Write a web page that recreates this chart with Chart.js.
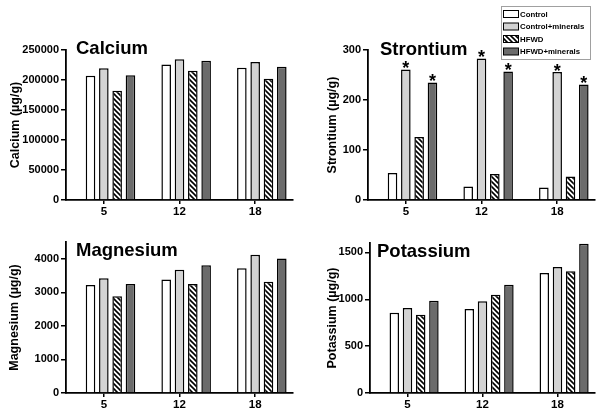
<!DOCTYPE html>
<html><head><meta charset="utf-8">
<script src="https://cdn.jsdelivr.net/npm/chart.js@4.4.1/dist/chart.umd.min.js"></script>
<style>
html,body{margin:0;padding:0;background:#fff;}
body{width:604px;height:416px;position:relative;overflow:hidden;}
canvas{position:absolute;}
</style></head><body>
<canvas id="ca" width="300" height="215" style="left:0;top:0;width:300px;height:215px"></canvas>
<canvas id="sr" width="304" height="215" style="left:300px;top:0;width:304px;height:215px"></canvas>
<canvas id="mg" width="300" height="201" style="left:0;top:215px;width:300px;height:201px"></canvas>
<canvas id="k" width="304" height="201" style="left:300px;top:215px;width:304px;height:201px"></canvas>
<script>
// ---- data ----
const categories = ['5', '12', '18'];
const seriesNames = ['Control', 'Control+minerals', 'HFWD', 'HFWD+minerals'];

const calciumControl  = [207000, 226000, 220500];
const calciumCtrlMin  = [219500, 234500, 230000];
const calciumHFWD     = [182000, 215500, 202000];
const calciumHFWDMin  = [208000, 232000, 222000];
const calciumTicks    = [0, 50000, 100000, 150000, 200000, 250000];

const strontiumControl = [54, 27, 25];
const strontiumCtrlMin = [261, 283, 256];
const strontiumHFWD    = [126, 52, 47];
const strontiumHFWDMin = [235, 257, 231];
const strontiumTicks   = [0, 100, 200, 300];
const strontiumStarred = ['Control+minerals', 'HFWD+minerals'];

const magnesiumControl = [3220, 3385, 3716];
const magnesiumCtrlMin = [3420, 3672, 4122];
const magnesiumHFWD    = [2880, 3248, 3318];
const magnesiumHFWDMin = [3245, 3808, 4010];
const magnesiumTicks   = [0, 1000, 2000, 3000, 4000];

const potassiumControl = [857, 896, 1280];
const potassiumCtrlMin = [906, 978, 1344];
const potassiumHFWD    = [835, 1049, 1298];
const potassiumHFWDMin = [985, 1155, 1593];
const potassiumTicks   = [0, 500, 1000, 1500];

// ---- styles ----
const FONT = '"Liberation Sans", Arial, Helvetica, sans-serif';
Chart.defaults.font.family = FONT;
Chart.defaults.font.weight = 'bold';
Chart.defaults.color = '#000';

function hatch() {
  const c = document.createElement('canvas');
  const s = 5;
  c.width = s; c.height = s;
  const g = c.getContext('2d');
  g.fillStyle = '#fff'; g.fillRect(0, 0, s, s);
  g.strokeStyle = '#000'; g.lineWidth = 1.6;
  g.beginPath();
  g.moveTo(-1, -1); g.lineTo(s + 1, s + 1);
  g.moveTo(-1, s - 1); g.lineTo(1, s + 1);
  g.moveTo(s - 1, -1); g.lineTo(s + 1, 1);
  g.stroke();
  return g.createPattern(c, 'repeat');
}
const HATCH = hatch();
const fills = ['#ffffff', '#d3d3d3', HATCH, '#6b6b6b'];

function makeChart(id, cfg) {
  const cv = document.getElementById(id);
  const W = cv.width, H = cv.height, L = cfg.area;
  const series = [cfg.control, cfg.ctrlMin, cfg.hfwd, cfg.hfwdMin];
  const datasets = [{ label: '', data: categories.map(() => null), backgroundColor: '#fff' }];
  series.forEach((d, i) => datasets.push({
    label: seriesNames[i], data: d, backgroundColor: fills[i],
    borderColor: '#000', borderWidth: 1.5
  }));
  const deco = {
    id: 'deco' + id,
    afterDraw(chart) {
      const ctx = chart.ctx;
      ctx.save();
      ctx.fillStyle = '#000';
      ctx.font = 'bold 18.5px ' + FONT;
      ctx.textBaseline = 'alphabetic';
      ctx.textAlign = 'left';
      ctx.fillText(cfg.title, cfg.titlePos[0], cfg.titlePos[1]);
      if (cfg.starred) {
        ctx.font = 'bold 18px ' + FONT;
        ctx.textAlign = 'center';
        cfg.starred.forEach(name => {
          const di = seriesNames.indexOf(name) + 1;
          chart.getDatasetMeta(di).data.forEach(bar => {
            ctx.fillText('*', bar.x, bar.y + 4.5);
          });
        });
      }
      if (cfg.legend) {
        const [lx, ly, lw, lh] = cfg.legend;
        ctx.strokeStyle = '#a0a0a0'; ctx.lineWidth = 1;
        ctx.strokeRect(lx + 0.5, ly + 0.5, lw, lh);
        ctx.font = 'bold 7.8px ' + FONT;
        ctx.textAlign = 'left'; ctx.textBaseline = 'middle';
        seriesNames.forEach((n, i) => {
          const cy = ly + 8 + i * 12.5;
          ctx.fillStyle = fills[i];
          ctx.fillRect(lx + 2, cy - 3.5, 15, 7);
          ctx.strokeStyle = '#000'; ctx.lineWidth = 1;
          ctx.strokeRect(lx + 2.5, cy - 3.5, 15, 7);
          ctx.fillStyle = '#000';
          ctx.fillText(n, lx + 19, cy + 0.5);
        });
      }
      ctx.restore();
    }
  };
  return new Chart(cv, {
    type: 'bar',
    data: { labels: categories, datasets },
    plugins: [deco],
    options: {
      responsive: false, animation: false,
      layout: { padding: { left: 0, top: L.top, right: W - L.right, bottom: 0 } },
      plugins: { legend: { display: false }, tooltip: { enabled: false } },
      datasets: { bar: { barPercentage: 0.72, categoryPercentage: 0.88 } },
      scales: {
        x: {
          afterFit: s => { s.height = H - L.bottom; },
          ticks: { color: '#000', font: { size: 11.5, weight: 'bold' }, padding: 1, maxRotation: 0 },
          grid: { display: true, offset: false, drawOnChartArea: false, drawTicks: true, tickLength: 4, color: '#000', lineWidth: 1.5 },
          border: { display: true, color: '#000', width: 1.8 }
        },
        y: {
          min: 0, max: cfg.max,
          afterFit: s => { s.width = L.left; },
          afterBuildTicks: s => { s.ticks = cfg.ticks.map(v => ({ value: v })); },
          ticks: { color: '#000', font: { size: 11, weight: 'bold' }, padding: 2,
                   callback: v => String(v) },
          grid: { display: true, drawOnChartArea: false, drawTicks: true, tickLength: 5, color: '#000', lineWidth: 1.5 },
          border: { display: true, color: '#000', width: 1.8 },
          title: { display: true, text: cfg.yTitle, color: '#000', font: { size: 12.5, weight: 'bold' },
                   padding: { top: cfg.titlePad, bottom: 0 } }
        }
      }
    }
  });
}

makeChart('ca', {
  control: calciumControl, ctrlMin: calciumCtrlMin, hfwd: calciumHFWD, hfwdMin: calciumHFWDMin,
  ticks: calciumTicks, max: 250000, title: 'Calcium', yTitle: 'Calcium (µg/g)', titlePad: 8,
  area: { left: 66, top: 50, right: 293, bottom: 200 }, titlePos: [76, 53.5]
});
makeChart('sr', {
  control: strontiumControl, ctrlMin: strontiumCtrlMin, hfwd: strontiumHFWD, hfwdMin: strontiumHFWDMin,
  ticks: strontiumTicks, max: 300, title: 'Strontium', yTitle: 'Strontium (µg/g)', titlePad: 25,
  area: { left: 68, top: 50, right: 295, bottom: 200 }, titlePos: [80, 55],
  starred: strontiumStarred, legend: [201, 6, 89, 53]
});
makeChart('mg', {
  control: magnesiumControl, ctrlMin: magnesiumCtrlMin, hfwd: magnesiumHFWD, hfwdMin: magnesiumHFWDMin,
  ticks: magnesiumTicks, max: 4500, title: 'Magnesium', yTitle: 'Magnesium (µg/g)', titlePad: 7,
  area: { left: 66, top: 27, right: 293, bottom: 178 }, titlePos: [76, 40.5]
});
makeChart('k', {
  control: potassiumControl, ctrlMin: potassiumCtrlMin, hfwd: potassiumHFWD, hfwdMin: potassiumHFWDMin,
  ticks: potassiumTicks, max: 1600, title: 'Potassium', yTitle: 'Potassium (µg/g)', titlePad: 25,
  area: { left: 70, top: 28, right: 295, bottom: 178 }, titlePos: [77, 41.5]
});
</script>
</body></html>
